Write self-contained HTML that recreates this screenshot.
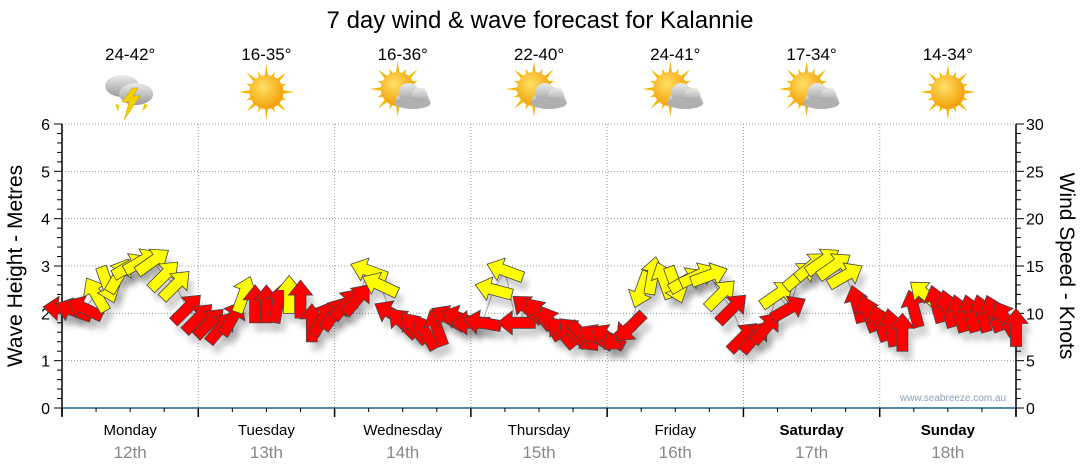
<!DOCTYPE html>
<html><head><meta charset="utf-8">
<style>
body{margin:0;background:#fff;font-family:"Liberation Sans",sans-serif;}
svg{display:block}
</style></head>
<body>
<svg id="chart" width="1080" height="475" xmlns="http://www.w3.org/2000/svg">
<defs>
<filter id="sh" x="-50%" y="-50%" width="200%" height="200%"><feGaussianBlur stdDeviation="3"/></filter>
<radialGradient id="sun" cx="0.4" cy="0.35" r="0.7"><stop offset="0" stop-color="#ffe066"/><stop offset="1" stop-color="#f29a00"/></radialGradient>
<linearGradient id="cloud" x1="0" y1="0" x2="0" y2="1"><stop offset="0" stop-color="#ececec"/><stop offset="1" stop-color="#9a9a9a"/></linearGradient>
</defs>
<text x="540" y="28" text-anchor="middle" font-size="24" fill="#000">7 day wind &amp; wave forecast for Kalannie</text>
<g id="grid"></g>
<g id="icons"></g>
<g id="axes"></g>
<g id="marks"></g>
<text x="953" y="401" text-anchor="middle" font-size="10" fill="#8aa0b8">www.seabreeze.com.au</text>
<text transform="translate(22,266) rotate(-90)" text-anchor="middle" font-size="21" fill="#000">Wave Height - Metres</text>
<text transform="translate(1060,266) rotate(90)" text-anchor="middle" font-size="21" fill="#000">Wind Speed - Knots</text>
</svg>
<script>
const days = ["Monday","Tuesday","Wednesday","Thursday","Friday","Saturday","Sunday"];
const dates = ["12th","13th","14th","15th","16th","17th","18th"];
const temps = ["24-42°","16-35°","16-36°","22-40°","24-41°","17-34°","14-34°"];
const weather = ["storm","sun","partly","partly","partly","partly","sun"];
const waveTicks = [0,1,2,3,4,5,6];
const windTicks = [0,5,10,15,20,25,30];
// hours from Monday 00:00
const hours = [0,2,4,6,8,10,12,14,16,18,20,22, 24,26,28,30,32,34,36,38,40,42,44,46, 48,50,52,54,56,58,60,62,64,66,68,70, 72,74,76,78,80,82,84,86,88,90,92,94, 96,98,100,102,104,106,108,110,112,114,116,118, 120,122,124,126,128,130,132,134,136,138,140,142, 144,146,148,150,152,154,156,158,160,162,164,166,168];
const windSpeed = [10.5,10.3,10.5,12,13,14,15,15.5,15.5,14,13,10.5, 9.5,9,8.5,9.5,12,11,11,11,12,11.5,9,9.5, 10,11,11.5,14.5,13,10,9,8.5,8,8.5,9.5,9.5, 9,9,12.5,14.5,9,10.5,10,9,8,8,7.5,7.5, 7.5,7.5,8.5,12.5,14,13.5,13,13.5,14,14,12,10.5, 7.5,7.5,8.5,12,10.5,14,15,15.5,15,14,11,10, 9,8.5,8,10.5,12,11,10.5,10,10,10,10,9.5,8.5];
const arrowDir = [275,290,295,330,160,30,60,60,55,45,45,45, 45,45,40,30,20,0,0,10,0,0,0,30, 35,40,40,290,295,300,315,320,330,340,300,290, 270,280,285,290,270,310,320,330,320,315,135,300, 300,230,225,200,10,340,160,60,65,70,45,45, 45,40,40,55,60,50,50,55,55,60,345,340, 340,350,0,345,310,345,345,345,345,345,340,330,0];
const colorKey = ["r","r","r","y","y","y","y","y","y","y","y","r", "r","r","r","r","y","r","r","r","y","r","r","r", "r","r","r","y","y","r","r","r","r","r","r","r", "r","r","y","y","r","r","r","r","r","r","r","r", "r","r","r","y","y","y","y","y","y","y","y","r", "r","r","r","y","r","y","y","y","y","y","r","r", "r","r","r","r","y","r","r","r","r","r","r","r","r"];

const X0=62, X1=1016, Y0=408, Y1=124;
const xScale = h => X0 + (X1-X0)*h/168;
const yWave = m => Y0 - (Y0-Y1)*m/6;
const yWind = k => Y0 - (Y0-Y1)*k/30;
const NS="http://www.w3.org/2000/svg";
function mk(tag,attrs,parent){const e=document.createElementNS(NS,tag);for(const k in attrs)e.setAttribute(k,attrs[k]);parent.appendChild(e);return e;}
const grid=document.getElementById('grid'), axes=document.getElementById('axes'), marks=document.getElementById('marks'), icons=document.getElementById('icons');

waveTicks.forEach(m=>{ if(m>0){const l=mk('line',{x1:X0,x2:X1,y1:yWave(m),y2:yWave(m),stroke:'#999','stroke-dasharray':'1,2','stroke-width':1},grid);

}});
for(let d=1;d<7;d++){const x=xScale(d*24);const l=mk('line',{x1:x,x2:x,y1:Y1,y2:Y0,stroke:'#999','stroke-dasharray':'1,2'},grid);

}

let a=mk('line',{x1:X0,x2:X0,y1:Y1,y2:Y0+8,stroke:'#000','stroke-width':1.5},axes);


a=mk('line',{x1:X1,x2:X1,y1:Y1,y2:Y0+8,stroke:'#000','stroke-width':1.5},axes);


a=mk('line',{x1:X0,x2:X1,y1:Y0,y2:Y0,stroke:'#1f5f8b','stroke-width':1.5},axes);


for(let i=0;i<=30;i++){const y=Y0-(Y0-Y1)*i/30;mk('line',{x1:X0-(i%5?5:8),x2:X0,y1:y,y2:y,stroke:'#000'},axes);}
for(let i=0;i<=30;i++){const y=Y0-(Y0-Y1)*i/30;mk('line',{x1:X1,x2:X1+(i%5?5:8),y1:y,y2:y,stroke:'#000'},axes);}
waveTicks.forEach(m=>{const t=mk('text',{x:X0-12,y:yWave(m)+6,'text-anchor':'end','font-size':16,fill:'#000'},axes);t.textContent=m;

});
windTicks.forEach(k=>{const t=mk('text',{x:X1+10,y:yWind(k)+6,'font-size':16,fill:'#000'},axes);t.textContent=k;

});
for(let h=0;h<=168;h+=6){const x=xScale(h);mk('line',{x1:x,x2:x,y1:Y0,y2:Y0+(h%24?4:9),stroke:'#000','stroke-width':h%24?1:1.5},axes);}
days.forEach((d,i)=>{const cx=xScale(i*24+12);
const t=mk('text',{x:cx,y:435,'text-anchor':'middle','font-size':15,fill:'#000','font-weight':i>=5?'bold':'normal'},axes);t.textContent=d;


const t2=mk('text',{x:cx,y:458,'text-anchor':'middle','font-size':17,fill:'#888'},axes);t2.textContent=dates[i];


const t3=mk('text',{x:cx,y:60,'text-anchor':'middle','font-size':17,fill:'#000'},icons);t3.textContent=temps[i];


const g=mk('g',{transform:`translate(${cx},92)`},icons);


const w=weather[i];
if(w!=='storm'){
 const sx=w==='sun'?0:-5, sy=w==='sun'?0:-3;
 for(let r=0;r<16;r++){const an=r*Math.PI/8, L=r%2?22:28;
  mk('polygon',{points:`${sx+Math.cos(an-0.13)*15},${sy+Math.sin(an-0.13)*15} ${sx+Math.cos(an)*L},${sy+Math.sin(an)*L} ${sx+Math.cos(an+0.13)*15},${sy+Math.sin(an+0.13)*15}`,fill:'#f5b800'},g);}
 mk('circle',{cx:sx,cy:sy,r:17,fill:'url(#sun)'},g);
 if(w==='partly'){mk('ellipse',{cx:10,cy:8,rx:17,ry:9,fill:'url(#cloud)'},g);mk('circle',{cx:6,cy:1,r:10,fill:'url(#cloud)'},g);mk('circle',{cx:17,cy:4,r:8,fill:'url(#cloud)'},g);mk('ellipse',{cx:10,cy:11,rx:18,ry:6,fill:'#b0b0b0'},g);}
}else{
 mk('ellipse',{cx:-8,cy:-6,rx:17,ry:11,fill:'url(#cloud)'},g);
 mk('ellipse',{cx:6,cy:2,rx:17,ry:11,fill:'url(#cloud)'},g);
 mk('polygon',{points:'2,-4 -8,10 -1,10 -6,28 10,4 3,4 8,-4',fill:'#f0d000',stroke:'#c9a000','stroke-width':0.5},g);
 mk('polygon',{points:'-15,12 -12,20 -11,13',fill:'#e8c800'},g);
 mk('polygon',{points:'14,12 12,20 18,13',fill:'#e8c800'},g);
}
});

const pts=hours.map((h,i)=>`${xScale(h)},${yWind(windSpeed[i])}`).join(' ');
const pl=mk('polyline',{points:pts,fill:'none',stroke:'#aaa','stroke-width':1},marks);



const arrowPath='M0,-19 L12,-4 L5.5,-4 L5.5,19 L-5.5,19 L-5.5,-4 L-12,-4 Z';
hours.forEach((h,i)=>{const x=xScale(h), y=yWind(windSpeed[i]);
 const s=mk('path',{d:arrowPath,transform:`translate(${x+5},${y+9}) rotate(${arrowDir[i]})`,fill:'#000',opacity:0.18,filter:'url(#sh)'},marks);
 
 
});
hours.forEach((h,i)=>{const x=xScale(h), y=yWind(windSpeed[i]);
 const p=mk('path',{d:arrowPath,transform:`translate(${x},${y}) rotate(${arrowDir[i]})`,fill:colorKey[i]==='y'?'#ffff00':'#ff0000',stroke:'#444','stroke-width':0.8},marks);
 
 
});
</script>
</body></html>
